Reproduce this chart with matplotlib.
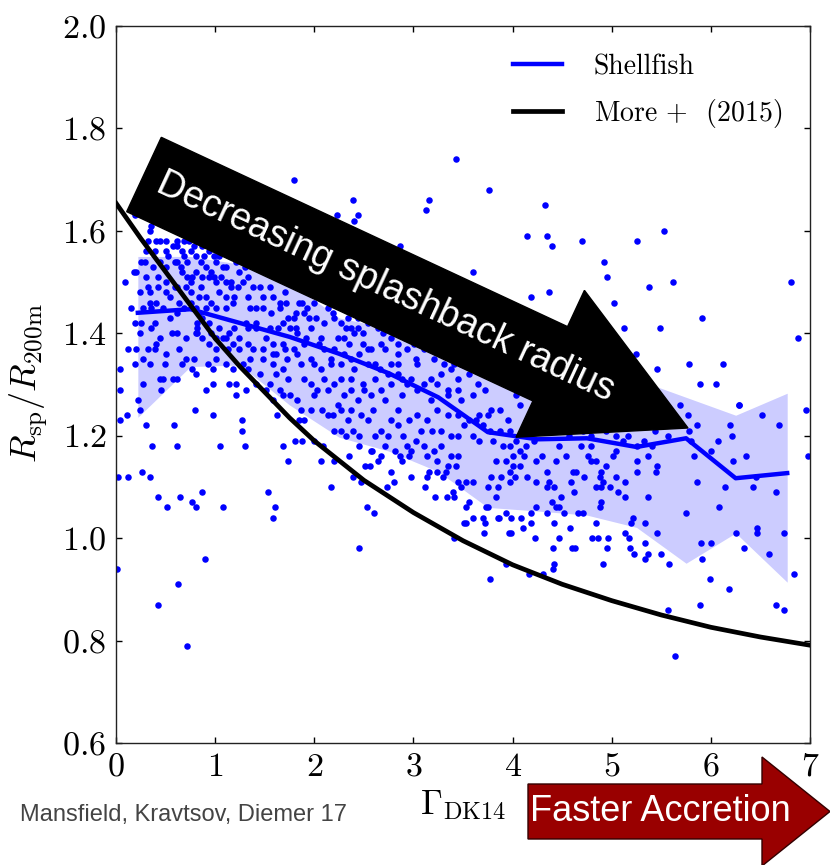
import numpy as np
import matplotlib.pyplot as plt
from matplotlib.patches import FancyArrow

plt.rcParams['font.family'] = 'serif'
plt.rcParams['font.serif'] = ['cmr10']
plt.rcParams['mathtext.fontset'] = 'cm'
plt.rcParams['axes.formatter.use_mathtext'] = True

# individual halos: (Gamma_DK14, R_sp / R_200m)
halos = [
    (0.19, 1.63), (0.35, 1.61), (0.32, 1.58), (0.44, 1.58), (0.61, 1.58), (0.57, 1.57), (0.62, 1.57),
    (0.69, 1.58), (0.74, 1.58), (0.79, 1.57), (0.25, 1.54), (0.09, 1.50), (0.18, 1.52), (0.30, 1.51),
    (0.32, 1.49), (0.42, 1.49), (0.24, 1.48), (0.34, 1.46), (0.27, 1.45), (0.35, 1.45), (0.42, 1.51),
    (0.50, 1.50), (0.52, 1.55), (0.59, 1.54), (0.69, 1.55), (0.81, 1.55), (0.89, 1.55), (0.94, 1.56),
    (0.99, 1.55), (0.67, 1.52), (0.72, 1.51), (0.77, 1.51), (0.81, 1.52), (0.61, 1.49), (0.71, 1.49),
    (0.76, 1.48), (0.54, 1.47), (0.64, 1.46), (0.86, 1.49), (0.94, 1.51), (0.99, 1.51), (1.06, 1.51),
    (1.08, 1.53), (0.84, 1.47), (0.91, 1.47), (0.96, 1.46), (1.04, 1.48), (1.11, 1.47), (1.18, 1.46),
    (1.16, 1.49), (1.23, 1.49), (1.28, 1.50), (1.33, 1.51), (1.38, 1.49), (1.45, 1.49), (1.48, 1.47),
    (1.55, 1.49), (1.58, 1.47), (1.65, 1.46), (1.70, 1.48), (1.30, 1.53), (1.24, 1.52), (1.21, 1.54),
    (0.19, 1.42), (0.24, 1.40), (0.39, 1.42), (0.62, 1.40), (0.81, 1.40), (0.82, 1.40), (0.56, 1.40),
    (0.12, 1.37), (0.32, 1.37), (0.39, 1.37), (0.40, 1.38), (0.49, 1.34), (0.64, 1.37), (0.71, 1.35),
    (0.79, 1.35), (0.19, 1.34), (0.04, 1.33), (0.27, 1.30), (0.44, 1.31), (0.47, 1.31), (0.57, 1.31),
    (0.61, 1.31), (0.45, 1.29), (0.04, 1.29), (0.22, 1.27), (0.91, 1.29), (0.81, 1.32), (0.94, 1.38),
    (1.01, 1.37), (1.08, 1.39), (1.14, 1.40), (0.87, 1.39), (0.96, 1.40), (0.93, 1.34), (0.98, 1.33),
    (1.18, 1.33), (1.21, 1.30), (1.28, 1.34), (1.35, 1.35), (1.38, 1.37), (1.48, 1.35), (1.58, 1.34),
    (1.61, 1.36), (1.72, 1.35), (1.68, 1.33), (1.13, 1.37), (1.18, 1.38), (1.24, 1.39), (1.11, 1.39),
    (1.31, 1.42), (1.41, 1.41), (1.51, 1.39), (1.58, 1.38), (1.68, 1.38), (1.75, 1.41), (1.45, 1.32),
    (1.55, 1.30), (1.61, 1.32), (1.73, 1.31), (1.65, 1.29), (1.21, 1.28), (1.58, 1.27), (1.68, 1.28),
    (1.01, 1.39), (0.87, 1.43), (0.82, 1.41),
    (0.66, 1.53), (0.72, 1.54), (0.96, 1.52), (1.01, 1.50), (1.11, 1.50), (1.16, 1.50), (1.19, 1.47),
    (1.33, 1.47), (1.41, 1.45), (1.35, 1.45), (1.48, 1.45), (1.56, 1.44), (1.65, 1.45), (1.73, 1.43),
    (1.71, 1.46), (1.41, 1.42), (1.33, 1.41), (1.55, 1.41), (1.63, 1.41), (1.68, 1.42), (1.48, 1.37),
    (1.58, 1.36), (1.70, 1.37), (1.11, 1.45), (1.01, 1.45), (0.91, 1.45), (0.84, 1.44), (0.81, 1.45),
    (0.76, 1.46), (0.69, 1.45), (0.61, 1.44), (0.54, 1.43), (0.47, 1.45), (0.40, 1.46), (0.34, 1.48),
    (0.50, 1.48), (0.59, 1.49), (0.76, 1.50), (0.87, 1.51), (0.91, 1.53), (1.01, 1.54), (1.11, 1.53),
    (1.04, 1.55), (0.86, 1.54), (0.61, 1.54), (0.50, 1.53), (0.44, 1.54), (0.37, 1.53), (0.29, 1.54),
    (0.20, 1.52), (0.30, 1.56), (0.39, 1.56), (0.50, 1.56), (0.67, 1.56), (0.76, 1.56), (0.87, 1.57),
    (0.40, 1.58), (0.50, 1.58), (0.34, 1.60), (0.81, 1.59), (0.91, 1.58),
    (0.82, 1.42), (0.94, 1.42), (1.04, 1.41), (1.19, 1.41), (1.24, 1.37), (1.33, 1.38), (1.01, 1.35),
    (1.11, 1.34), (1.33, 1.33), (1.41, 1.30), (1.51, 1.29), (1.75, 1.28), (1.31, 1.29), (1.14, 1.30),
    (0.98, 1.30), (0.77, 1.33), (0.67, 1.34), (0.50, 1.36), (0.34, 1.34), (0.27, 1.35), (0.20, 1.37),
    (0.25, 1.42), (0.35, 1.41), (0.44, 1.39), (0.71, 1.39), (0.15, 1.45),
    (1.80, 1.70), (2.39, 1.66), (2.44, 1.63), (2.40, 1.62), (2.23, 1.63), (3.16, 1.66), (3.13, 1.64),
    (3.43, 1.74), (2.86, 1.57),
    (1.85, 1.46), (1.88, 1.46), (1.82, 1.44), (1.90, 1.44), (1.95, 1.43), (2.02, 1.43), (1.97, 1.41),
    (2.10, 1.42), (2.19, 1.44), (1.82, 1.41), (1.83, 1.40), (1.92, 1.39), (1.90, 1.38), (1.80, 1.37),
    (1.83, 1.36), (2.27, 1.42), (2.32, 1.41), (2.37, 1.41), (2.40, 1.40), (2.44, 1.41), (2.49, 1.40),
    (2.30, 1.39), (2.35, 1.38), (2.49, 1.38), (2.54, 1.37), (2.61, 1.42), (2.69, 1.40), (2.77, 1.41),
    (2.86, 1.40), (2.05, 1.38), (2.10, 1.37), (2.20, 1.37), (2.30, 1.36), (2.45, 1.36), (2.57, 1.37),
    (2.71, 1.37), (2.84, 1.36), (2.94, 1.37), (3.03, 1.35), (3.11, 1.37), (3.21, 1.37), (3.35, 1.37),
    (3.48, 1.37), (1.87, 1.34), (2.00, 1.34), (2.07, 1.33), (2.17, 1.34), (2.27, 1.34), (2.40, 1.33),
    (2.54, 1.34), (2.66, 1.33), (2.77, 1.34), (1.90, 1.31), (1.97, 1.30), (2.10, 1.31), (2.20, 1.30),
    (2.27, 1.31), (2.37, 1.29), (2.49, 1.30), (2.61, 1.31), (2.74, 1.32), (2.84, 1.32), (2.98, 1.31),
    (3.04, 1.34), (3.18, 1.31), (3.28, 1.32), (3.38, 1.33), (3.45, 1.31), (1.83, 1.27), (2.00, 1.28),
    (2.14, 1.29), (2.30, 1.28), (2.44, 1.27), (2.57, 1.28), (2.71, 1.27), (2.88, 1.28), (3.04, 1.29),
    (3.18, 1.27), (3.35, 1.28), (3.48, 1.27),
    (1.80, 1.43), (1.93, 1.45), (2.00, 1.46), (2.14, 1.45), (2.20, 1.43), (2.34, 1.43), (2.44, 1.43),
    (2.54, 1.42), (2.64, 1.41), (2.77, 1.39), (2.91, 1.39), (3.01, 1.38), (3.11, 1.39), (3.21, 1.35),
    (3.31, 1.34), (3.41, 1.34), (3.48, 1.34), (1.97, 1.35), (2.17, 1.35), (2.37, 1.35), (2.61, 1.34),
    (2.84, 1.34), (2.94, 1.30), (3.11, 1.30), (3.24, 1.30), (3.35, 1.29), (3.45, 1.29), (2.03, 1.29),
    (2.24, 1.26), (2.37, 1.31), (2.50, 1.29), (2.67, 1.29), (2.77, 1.30), (2.88, 1.31), (2.07, 1.39),
    (2.24, 1.39), (2.67, 1.38), (2.84, 1.38),
    (3.76, 1.68), (4.33, 1.65), (4.15, 1.59), (4.35, 1.59), (4.40, 1.57), (4.70, 1.58), (5.25, 1.58),
    (4.92, 1.54), (4.95, 1.51), (3.60, 1.52), (4.19, 1.47), (4.37, 1.48), (5.02, 1.46), (5.12, 1.41),
    (5.24, 1.36), (3.56, 1.32), (3.65, 1.30), (3.72, 1.29), (3.60, 1.28), (4.03, 1.28), (4.07, 1.26),
    (5.53, 1.60), (5.38, 1.49), (5.62, 1.50), (6.81, 1.50), (5.91, 1.43), (5.49, 1.41), (6.88, 1.39),
    (5.46, 1.33), (5.78, 1.34), (6.12, 1.34), (5.89, 1.30), (6.05, 1.30), (5.69, 1.26), (6.28, 1.26),
    (0.04, 1.23), (0.11, 1.24), (0.24, 1.25), (0.30, 1.22), (0.80, 1.25), (0.98, 1.24), (1.27, 1.23),
    (1.27, 1.21), (0.58, 1.22), (0.36, 1.18), (0.62, 1.18), (1.05, 1.18), (1.30, 1.18), (1.68, 1.18),
    (1.73, 1.15), (1.62, 1.24), (0.02, 1.12), (0.12, 1.12), (0.26, 1.13), (0.34, 1.12), (0.42, 1.08),
    (0.51, 1.06), (0.65, 1.08), (0.77, 1.07), (0.81, 1.06), (0.87, 1.09), (1.08, 1.06), (1.53, 1.09),
    (1.60, 1.06), (1.58, 1.04), (0.90, 0.96), (0.01, 0.94), (0.63, 0.91), (0.42, 0.87), (0.72, 0.79),
    (1.81, 1.19), (1.88, 1.19), (2.00, 1.19), (2.09, 1.18), (1.85, 1.23), (1.90, 1.23), (2.07, 1.15),
    (2.20, 1.15), (2.35, 1.16), (2.39, 1.12), (2.47, 1.11), (2.51, 1.14), (2.56, 1.14), (2.67, 1.16),
    (2.58, 1.17), (2.17, 1.10), (2.53, 1.06), (2.60, 1.05), (2.45, 0.98), (2.77, 1.13), (2.88, 1.15),
    (2.80, 1.11), (2.73, 1.10), (2.98, 1.12), (3.12, 1.10), (3.22, 1.08), (3.16, 1.13), (3.24, 1.13),
    (3.14, 1.12), (3.33, 1.13), (3.34, 1.08), (3.41, 1.08), (3.40, 1.09), (3.45, 1.11), (3.48, 1.10),
    (3.43, 1.14), (3.51, 1.03), (3.41, 1.00),
    (1.97, 1.25), (2.08, 1.25), (2.19, 1.24), (2.27, 1.25), (2.37, 1.25), (2.47, 1.24), (2.59, 1.25),
    (2.77, 1.23), (2.84, 1.25), (2.96, 1.23), (3.04, 1.24), (3.14, 1.23), (3.24, 1.25), (3.35, 1.24),
    (3.45, 1.24), (3.51, 1.22), (2.20, 1.21), (2.27, 1.21), (2.39, 1.21), (2.45, 1.20), (2.61, 1.20),
    (2.74, 1.20), (2.89, 1.20), (2.94, 1.18), (3.03, 1.19), (3.19, 1.21), (3.28, 1.18), (3.38, 1.16),
    (3.45, 1.20), (3.14, 1.16), (3.24, 1.15), (2.86, 1.16), (2.96, 1.16), (2.71, 1.18), (2.57, 1.17),
    (2.45, 1.18), (2.32, 1.20),
    (1.87, 1.25), (2.14, 1.24), (2.34, 1.23), (2.54, 1.23), (2.67, 1.21), (2.84, 1.22), (3.08, 1.21),
    (3.28, 1.21), (3.38, 1.20), (3.11, 1.18), (3.21, 1.17), (2.98, 1.17), (2.81, 1.17), (2.64, 1.15),
    (3.45, 1.16), (3.35, 1.14), (3.30, 1.12),
    (3.56, 1.23), (3.63, 1.23), (3.70, 1.22), (3.77, 1.21), (3.87, 1.21), (3.97, 1.21), (3.60, 1.20),
    (3.66, 1.19), (3.80, 1.19), (3.90, 1.18), (3.97, 1.18), (4.03, 1.19), (3.78, 1.25), (3.87, 1.25),
    (3.75, 1.24), (3.66, 1.24), (3.95, 1.23), (4.22, 1.19), (4.47, 1.18), (4.69, 1.18), (4.79, 1.18),
    (4.79, 1.20), (5.04, 1.20), (5.16, 1.20), (5.11, 1.19), (5.04, 1.17), (5.26, 1.18), (4.14, 1.18),
    (4.12, 1.16), (4.00, 1.16), (3.93, 1.15), (4.24, 1.15), (4.30, 1.16), (4.44, 1.15), (4.76, 1.16),
    (4.79, 1.15), (4.84, 1.15), (4.94, 1.14), (5.25, 1.15), (3.83, 1.15), (4.00, 1.14), (4.07, 1.14),
    (4.02, 1.12), (3.78, 1.12), (3.88, 1.12), (3.60, 1.11), (3.53, 1.11), (3.75, 1.10), (3.85, 1.10),
    (3.97, 1.11), (4.15, 1.12), (4.24, 1.11), (4.35, 1.13), (4.37, 1.11), (4.35, 1.10), (4.42, 1.10),
    (4.49, 1.08), (4.61, 1.13), (4.64, 1.13), (4.59, 1.11), (4.62, 1.09), (4.72, 1.12), (4.88, 1.12),
    (4.89, 1.13), (4.91, 1.11), (4.84, 1.10), (4.89, 1.10), (4.98, 1.10), (5.04, 1.12), (5.06, 1.09),
    (5.13, 1.08), (5.13, 1.11), (5.26, 1.13), (3.83, 1.08), (3.75, 1.06), (3.73, 1.06), (3.56, 1.07),
    (3.53, 1.06), (3.93, 1.05), (3.98, 1.04), (4.19, 1.05), (4.24, 1.06), (4.40, 1.07), (4.44, 1.06),
    (4.47, 1.06), (4.35, 1.05), (4.52, 1.05), (4.66, 1.05), (4.71, 1.05), (4.88, 1.06), (4.89, 1.07),
    (5.21, 1.04), (3.85, 1.04), (3.53, 1.03), (3.60, 1.04), (3.70, 1.04), (3.72, 1.03), (3.86, 1.04),
    (4.08, 1.04), (4.19, 1.03), (4.42, 1.03), (4.84, 1.03), (5.19, 1.03), (3.71, 1.01), (3.96, 1.01),
    (3.98, 1.01), (4.11, 1.02), (4.23, 1.00), (4.47, 1.00), (4.58, 1.02), (4.80, 1.00), (4.86, 1.00),
    (4.96, 1.00), (5.13, 1.01), (5.17, 1.00), (4.41, 0.98), (4.60, 0.98), (4.63, 0.98), (4.95, 0.98),
    (5.18, 0.98), (5.22, 0.97), (4.42, 0.95), (4.41, 0.94), (4.91, 0.95), (3.93, 0.95), (4.17, 0.93),
    (4.31, 0.93), (3.77, 0.92),
    (4.20, 1.25), (4.34, 1.23), (4.50, 1.24), (4.64, 1.23), (4.84, 1.24), (4.98, 1.23), (5.14, 1.23),
    (4.40, 1.21), (4.57, 1.20), (4.71, 1.21), (4.94, 1.21), (4.07, 1.17), (4.54, 1.16), (5.01, 1.16),
    (3.97, 1.13),
    (6.28, 1.26), (6.96, 1.25), (6.52, 1.24), (6.69, 1.22), (5.77, 1.24), (5.78, 1.21), (5.86, 1.22),
    (6.19, 1.22), (6.21, 1.20), (6.07, 1.19), (6.00, 1.17), (5.83, 1.16), (6.35, 1.16), (6.22, 1.15),
    (5.44, 1.21), (5.57, 1.20), (5.80, 1.19), (5.33, 1.19), (5.41, 1.18), (5.37, 1.16), (5.46, 1.14),
    (5.45, 1.13), (6.98, 1.16), (6.46, 1.12), (6.43, 1.10), (6.66, 1.09), (6.14, 1.10), (5.86, 1.11),
    (5.37, 1.08), (5.75, 1.05), (6.08, 1.06), (5.34, 1.03), (5.46, 1.01), (6.25, 1.01), (6.47, 1.02),
    (6.47, 1.01), (6.74, 1.01), (5.34, 0.99), (5.37, 0.97), (5.34, 0.96), (5.50, 0.97), (5.58, 0.95),
    (5.90, 0.99), (6.00, 0.99), (5.91, 0.96), (6.33, 0.98), (6.59, 0.97), (6.84, 0.93), (5.99, 0.92),
    (6.18, 0.90), (5.57, 0.86), (5.89, 0.87), (6.66, 0.87), (6.74, 0.86), (5.64, 0.77),
]
gamma_halo, ratio_halo = np.array(halos).T

# Shellfish running median and scatter band
bin_gamma = [0.22, 0.75, 1.25, 1.75, 2.25, 2.75, 3.25, 3.75, 4.25, 4.75, 5.25, 5.75, 6.25, 6.77]
shellfish_median = [1.44, 1.447, 1.42, 1.393, 1.36, 1.322, 1.275, 1.207, 1.193, 1.195, 1.178, 1.195, 1.117, 1.127]
shellfish_hi = [1.55, 1.55, 1.535, 1.50, 1.43, 1.41, 1.39, 1.36, 1.34, 1.32, 1.31, 1.275, 1.24, 1.283]
shellfish_lo = [1.236, 1.335, 1.338, 1.26, 1.197, 1.17, 1.13, 1.06, 1.053, 1.045, 1.021, 0.951, 1.01, 0.914]

# More, Diemer & Kravtsov (2015) relation
more_gamma = [0, 0.25, 0.5, 0.75, 1.0, 1.25, 1.5, 1.75, 2.0, 2.5, 3.0, 3.5, 4.0, 4.5, 5.0, 5.5, 6.0, 6.5, 7.0]
more_ratio = [1.654, 1.585, 1.52, 1.455, 1.39, 1.335, 1.285, 1.235, 1.19, 1.113, 1.05, 0.995, 0.948, 0.91, 0.878, 0.85, 0.826, 0.807, 0.791]

fig = plt.figure(figsize=(8.3, 8.65), dpi=100)
ax = fig.add_axes([0.1398, 0.141, 0.8361, 0.829])

ax.fill_between(bin_gamma, shellfish_lo, shellfish_hi, color='blue', alpha=0.2, lw=0, zorder=1)
ax.scatter(gamma_halo, ratio_halo, s=22, c='blue', lw=0, zorder=2)
ax.plot(bin_gamma, shellfish_median, color='blue', lw=3.2, label='Shellfish', zorder=3)
ax.plot(more_gamma, more_ratio, color='black', lw=3.4, label=r'More $+$  (2015)', zorder=3)

ax.set_xlim(0, 7)
ax.set_ylim(0.6, 2.0)
ax.set_xticks(range(8))
ax.set_yticks(np.arange(0.6, 2.01, 0.2))
ax.tick_params(direction='in', top=True, right=True, length=4.5, width=1, labelsize=24.5, pad=7)
for sp in ax.spines.values():
    sp.set_linewidth(1.0)
    sp.set_color('#222222')

ax.set_xlabel(r'$\Gamma_{\rm DK14}$', fontsize=25)
ax.xaxis.set_label_coords(0.5, -0.063)
ax.set_ylabel(r'$R_{\rm sp}/R_{\rm 200m}$', fontsize=26)
ax.yaxis.set_label_coords(-0.095, 0.502)

ax.legend(loc='upper right', frameon=False, fontsize=20, handlelength=1.76,
          handletextpad=1.15, labelspacing=0.6, borderaxespad=0.6)

# annotation arrows, placed in inches on the figure
trend = FancyArrow(1.44, 6.905, 5.44, -2.535, width=0.82, head_width=1.62, head_length=1.52,
                   length_includes_head=True, fc='black', ec='black',
                   transform=fig.dpi_scale_trans)
fig.add_artist(trend)
fig.text(3.85, 5.78, 'Decreasing splashback radius', transform=fig.dpi_scale_trans,
         rotation=-24.9, rotation_mode='anchor', ha='center', va='center',
         family='Liberation Sans', color='white', fontsize=27)

accretion = FancyArrow(5.28, 0.535, 3.02, 0, width=0.55, head_width=1.09, head_length=0.68,
                       length_includes_head=True, fc='#990000', ec='#330000', lw=1,
                       transform=fig.dpi_scale_trans)
fig.add_artist(accretion)
fig.text(5.30, 0.535, 'Faster Accretion', transform=fig.dpi_scale_trans, ha='left', va='center',
         family='Liberation Sans', color='white', fontsize=26)

fig.text(0.20, 0.50, 'Mansfield, Kravtsov, Diemer 17', transform=fig.dpi_scale_trans,
         ha='left', va='center', family='Liberation Sans', color='#444444', fontsize=17)

fig.savefig('out.png', dpi=100)
